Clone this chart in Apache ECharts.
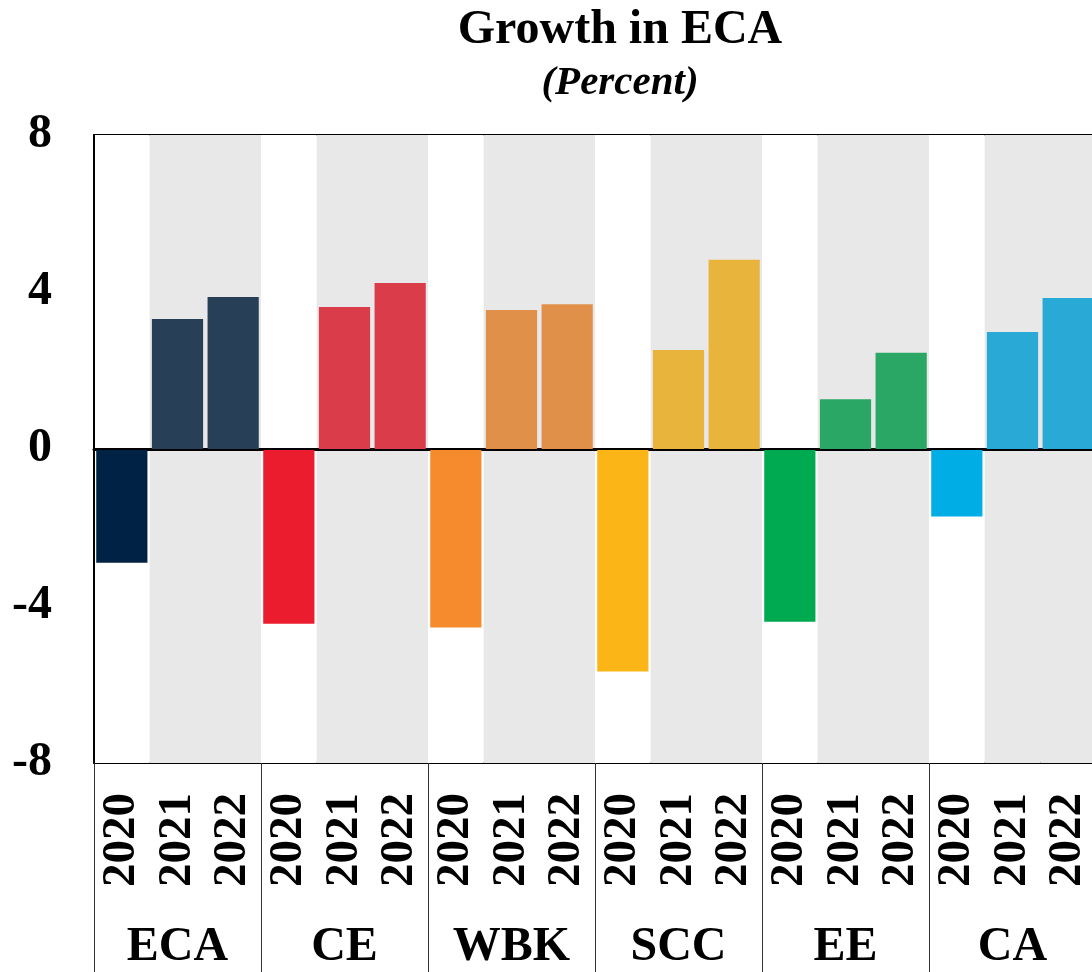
<!DOCTYPE html>
<html>
<head>
<meta charset="utf-8">
<script src="https://cdn.jsdelivr.net/npm/echarts@6/dist/echarts.min.js"></script>
<style>
  html, body { margin: 0; padding: 0; background: #fff; }
  #chart { width: 1092px; height: 972px; }
</style>
</head>
<body>
<div id="chart"></div>
<script>
var groups = ['ECA', 'CE', 'WBK', 'SCC', 'EE', 'CA'];
var years = ['2020', '2021', '2022'];
var growth2020 = [-2.9, -4.45, -4.55, -5.67, -4.4, -1.72];
var growth2021 = [3.31, 3.62, 3.54, 2.52, 1.27, 2.98];
var growth2022 = [3.87, 4.23, 3.69, 4.82, 2.45, 3.85];
var colors2020 = ['#002244', '#eb1c2d', '#f68b2d', '#fbb516', '#00aa51', '#00aee5'];
var colorsLater = ['#283f58', '#db3c49', '#e1904a', '#e8b43b', '#2aa764', '#29a9d5'];
var yTicks = [-8, -4, 0, 4, 8];

var font = 'Liberation Serif';

// one category per group/year pair
var categories = [];
var barData = [];
groups.forEach(function(g, i) {
    var vals = [growth2020[i], growth2021[i], growth2022[i]];
    years.forEach(function(y, j) {
        categories.push(g + '|' + y);
        barData.push({
            value: vals[j],
            itemStyle: { color: j === 0 ? colors2020[i] : colorsLater[i] }
        });
    });
});

var chart = echarts.init(document.getElementById('chart'));

option = {
    animation: false,
    title: {
        text: 'Growth in ECA',
        subtext: '(Percent)',
        left: 620,
        top: 7,
        textAlign: 'center',
        itemGap: 8,
        padding: 0,
        textStyle: { fontFamily: font, fontSize: 48, fontWeight: 'bold', color: '#000' },
        subtextStyle: { fontFamily: font, fontSize: 41, fontWeight: 'bold', fontStyle: 'italic', color: '#000' }
    },
    grid: {
        left: 94,
        top: 135,
        width: 1002,
        height: 628,
        outerBoundsMode: 'none',
        show: true,
        borderColor: '#000',
        borderWidth: 2,
        backgroundColor: 'transparent'
    },
    xAxis: [{
        type: 'category',
        data: categories,
        position: 'bottom',
        axisLine: { show: true, lineStyle: { color: '#000', width: 3 } },
        axisTick: { show: false },
        splitArea: {
            show: true,
            interval: 0,
            areaStyle: { color: ['#ffffff', '#e8e8e8', '#e8e8e8'] }
        },
        axisLabel: {
            interval: 0,
            rotate: 90,
            margin: 30,
            fontFamily: font,
            fontSize: 47,
            fontWeight: 'bold',
            color: '#000',
            formatter: function(v) { return v.split('|')[1]; }
        }
    }, {
        type: 'category',
        data: groups,
        position: 'bottom',
        axisLine: { show: false },
        axisTick: { show: true, length: 212, lineStyle: { color: '#333', width: 1 } },
        axisLabel: {
            interval: 0,
            margin: 161,
            fontFamily: font,
            fontSize: 48,
            fontWeight: 'bold',
            color: '#000'
        }
    }],
    yAxis: {
        type: 'value',
        min: yTicks[0],
        max: yTicks[yTicks.length - 1],
        interval: 4,
        axisLine: { show: true, lineStyle: { color: '#000', width: 2 } },
        axisTick: { show: false },
        splitLine: { show: false },
        axisLabel: {
            margin: 42,
            fontFamily: font,
            fontSize: 48,
            fontWeight: 'bold',
            color: '#000'
        }
    },
    series: [{
        type: 'bar',
        xAxisIndex: 0,
        data: barData,
        barCategoryGap: '8%',
        markLine: {
            silent: true,
            symbol: 'none',
            label: { show: false },
            lineStyle: { color: '#000', width: 1, type: 'solid' },
            data: [{ yAxis: 0 }]
        }
    }]
};

chart.setOption(option);
</script>
</body>
</html>
